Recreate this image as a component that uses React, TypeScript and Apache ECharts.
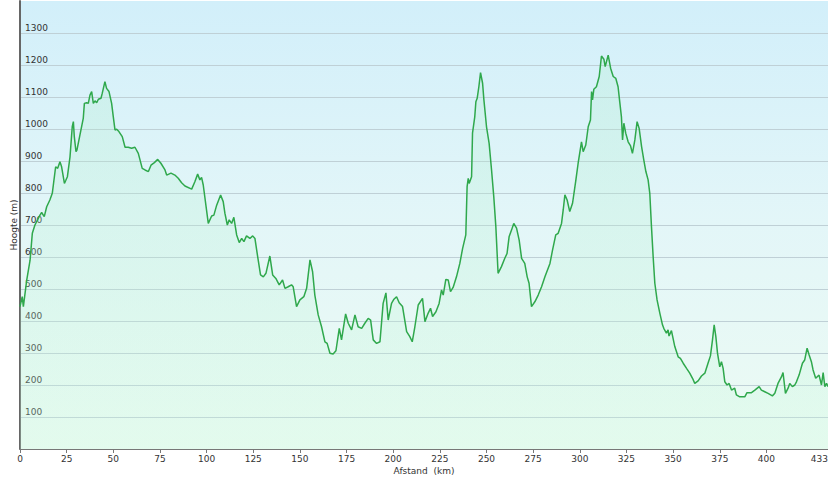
import React, { useEffect, useRef } from "react";
import * as echarts from "echarts";

const distanceKm = [
  0, 1.2, 1.8, 3.6, 5.4, 6.6, 8, 10.7, 11.6, 13, 14.3, 16, 17.3, 19.1, 20.2, 21.4, 22.3, 23.8, 24.5, 25.4,
  26.8, 28, 28.6, 29.1, 30, 30.5, 32.1, 33.9, 34.5, 35.7, 36.6, 37.5, 38.4, 39.3, 40.2, 41.1, 42, 43.4, 44.1, 45.5,
  46.4, 47.7, 49.1, 50, 50.9, 51.8, 53, 54.8, 56.3, 58, 59.8, 61.6, 63.4, 65.5, 67, 68.8, 70.2, 72, 73.8, 75.5,
  77.7, 78.6, 80.9, 83, 84.8, 86.6, 88.4, 92, 93.7, 95.2, 96.4, 97.3, 98.2, 100.9, 102.7, 103.9, 105.4, 107.5, 108.9, 109.8,
  111.1, 112.1, 113.4, 114.6, 116.1, 117.5, 118.8, 120, 121.4, 123.2, 124.7, 125.9, 127.1, 128.9, 130.4, 131.8, 133.9, 135.4, 137.1, 138.9,
  140.7, 142, 143.7, 145.5, 146.4, 148.2, 150, 152.1, 153.6, 155.4, 156.8, 158, 159.8, 161.6, 163.4, 164.6, 166.1, 167.8, 169.3, 171.1,
  172.3, 174.5, 175.9, 177.7, 179.5, 181.2, 183.1, 184.8, 186.6, 187.9, 189.3, 191.1, 192.9, 194.6, 196.1, 197.3, 199.1, 200.4, 201.8, 203.2,
  205, 207.2, 208.9, 210.2, 211.6, 213.4, 215.7, 217, 218.7, 220, 221.1, 222.9, 224.6, 225.9, 226.8, 228.2, 229.5, 230.7, 232.1, 233.9,
  235.7, 237.2, 238.9, 239.6, 240.2, 240.7, 242, 242.5, 243.7, 244.3, 245, 245.9, 246.8, 247.9, 248.6, 250, 251.4, 252.7, 253.9, 255,
  256.2, 258, 259.8, 261, 262.1, 263.4, 264.6, 266.1, 267.5, 268.8, 270.5, 271.8, 272.8, 274.1, 275.9, 277.7, 279.5, 281.3, 284, 285.4,
  287.1, 288.4, 290.2, 291.1, 292, 293.2, 294.6, 296.1, 297.9, 299.1, 300.9, 301.8, 303.2, 304.5, 305.7, 306.3, 306.8, 307.5, 308.9, 310.4,
  311.6, 312.9, 313.6, 315.2, 316.5, 317.9, 319.3, 320.5, 321.4, 322.3, 322.9, 323.6, 324.6, 325.9, 327.2, 328.2, 329.5, 330.7, 331.8, 333.1,
  334.3, 335.4, 336.6, 337.5, 338.4, 339.3, 340.2, 341.4, 342.9, 344.3, 345, 346.4, 347.3, 347.8, 349.1, 350.9, 352.7, 353.9, 355.4, 357.2,
  358.9, 360.4, 361.6, 363.4, 365.2, 367, 368.7, 370, 371.1, 372, 372.9, 373.8, 375, 375.9, 376.8, 377.7, 378.9, 380, 381.3, 383,
  383.9, 385.7, 388.4, 389.6, 392, 393.8, 396.1, 397.3, 399.1, 400.9, 403.2, 404.5, 406.2, 408.1, 408.9, 410.2, 411.6, 412.5, 413.9, 415.2,
  416.1, 417.5, 419.3, 420.5, 421.8, 422.9, 424.1, 425, 426.4, 428.2, 429.5, 430.4, 431.3, 432.2, 433,
];

const elevationM = [
  445, 476, 445, 528, 590, 674, 700, 731, 739, 726, 757, 778, 799, 882, 877, 898, 882, 830, 839, 851,
  913, 1007, 1023, 976, 929, 934, 981, 1033, 1080, 1082, 1080, 1106, 1117, 1080, 1088, 1082, 1093, 1096, 1112, 1148,
  1127, 1117, 1080, 1038, 997, 999, 992, 976, 943, 943, 940, 943, 924, 877, 872, 867, 887, 895, 905, 893,
  872, 856, 862, 856, 846, 832, 822, 812, 835, 859, 841, 849, 825, 705, 728, 731, 762, 794, 773, 737,
  700, 716, 705, 724, 669, 645, 658, 648, 666, 658, 666, 658, 611, 544, 538, 549, 603, 544, 533, 513,
  528, 502, 507, 513, 507, 445, 466, 476, 502, 591, 554, 481, 419, 382, 335, 330, 299, 297, 307, 377,
  341, 422, 393, 372, 419, 382, 377, 393, 408, 403, 341, 330, 335, 455, 488, 403, 455, 468, 476, 457,
  445, 367, 351, 335, 382, 450, 471, 398, 424, 440, 414, 429, 455, 497, 481, 530, 528, 492, 505, 538,
  580, 627, 669, 820, 846, 830, 851, 987, 1038, 1085, 1096, 1132, 1176, 1143, 1091, 1007, 955, 872, 788, 695,
  549, 570, 596, 611, 663, 684, 705, 690, 653, 596, 580, 538, 518, 445, 460, 481, 507, 538, 580, 622,
  669, 674, 705, 747, 794, 778, 742, 768, 841, 893, 960, 929, 950, 1007, 1028, 1117, 1091, 1124, 1132, 1164,
  1228, 1218, 1195, 1231, 1190, 1164, 1158, 1132, 1085, 1038, 966, 1018, 987, 960, 947, 924, 966, 1023, 1002, 945,
  903, 867, 841, 799, 695, 601, 518, 466, 424, 388, 377, 362, 372, 353, 370, 320, 288, 283, 268, 252,
  237, 221, 205, 213, 228, 237, 268, 291, 341, 388, 351, 299, 257, 273, 252, 210, 200, 205, 184, 190,
  169, 163, 163, 176, 176, 184, 195, 184, 179, 174, 166, 174, 205, 226, 239, 174, 190, 205, 195, 200,
  210, 231, 268, 278, 315, 294, 273, 247, 221, 231, 200, 239, 195, 205, 195,
];

const xTickValues = [0, 25, 50, 75, 100, 125, 150, 175, 200, 225, 250, 275, 300, 325, 350, 375, 400, 433];
const yTickValues = [100, 200, 300, 400, 500, 600, 700, 800, 900, 1000, 1100, 1200, 1300];

export default function App() {
  const ref = useRef<HTMLDivElement>(null);

  useEffect(() => {
    if (!ref.current) return;
    const chart = echarts.init(ref.current, undefined, { renderer: "svg" });
    const data = distanceKm.map((d, i) => [d, elevationM[i]]);
    const font = "'DejaVu Sans', Verdana, sans-serif";
    chart.setOption({
      animation: false,
      backgroundColor: "#ffffff",
      grid: {
        left: 20,
        right: 0,
        top: 1,
        bottom: 31,
        containLabel: false,
        outerBoundsMode: "none",
        show: true,
        borderWidth: 0,
        backgroundColor: new echarts.graphic.LinearGradient(0, 0, 0, 1, [
          { offset: 0, color: "#d2effa" },
          { offset: 0.5, color: "#e3f6f8" },
          { offset: 1, color: "#ecfbf3" },
        ]),
      },
      xAxis: {
        type: "value",
        min: 0,
        max: 433,
        name: "Afstand  (km)",
        nameLocation: "middle",
        nameGap: 17,
        nameMoveOverlap: false,
        nameTextStyle: { color: "#333", fontSize: 9, fontFamily: font },
        axisLine: { show: true, lineStyle: { color: "#777", width: 1 } },
        axisTick: { show: true, length: 4, lineStyle: { color: "#777" }, customValues: xTickValues },
        axisLabel: {
          color: "#333",
          fontSize: 9,
          fontFamily: font,
          margin: 5,
          customValues: xTickValues,
          alignMaxLabel: "right",
          formatter: (v: number) => String(v),
        },
        splitLine: { show: false },
      },
      yAxis: {
        type: "value",
        min: 0,
        max: 1400,
        name: "Hoogte (m)",
        nameLocation: "middle",
        nameGap: 2,
        nameRotate: 90,
        nameMoveOverlap: false,
        nameTextStyle: { color: "#333", fontSize: 9, fontFamily: font },
        axisLine: { show: true, lineStyle: { color: "#666", width: 2 } },
        axisTick: { show: false, customValues: yTickValues },
        axisLabel: {
          inside: true,
          color: "#333",
          fontSize: 9,
          fontFamily: font,
          margin: 5,
          verticalAlign: "bottom",
          padding: [0, 0, 1, 0],
          customValues: yTickValues,
          formatter: (v: number) => String(v),
        },
        splitLine: { show: true, lineStyle: { color: "#bfd0d6", width: 1 } },
      },
      series: [
        {
          type: "line",
          data,
          showSymbol: false,
          symbol: "none",
          lineStyle: { color: "#2fa84c", width: 1.5 },
          areaStyle: {
            color: new echarts.graphic.LinearGradient(0, 0, 0, 1, [
              { offset: 0, color: "rgba(170,235,200,0.35)" },
              { offset: 1, color: "rgba(200,250,220,0.35)" },
            ]),
          },
          z: 3,
        },
      ],
    });
    return () => chart.dispose();
  }, []);

  return (
    <div
      ref={ref}
      style={{ position: "fixed", left: 0, top: 0, width: 828, height: 480 }}
    />
  );
}
